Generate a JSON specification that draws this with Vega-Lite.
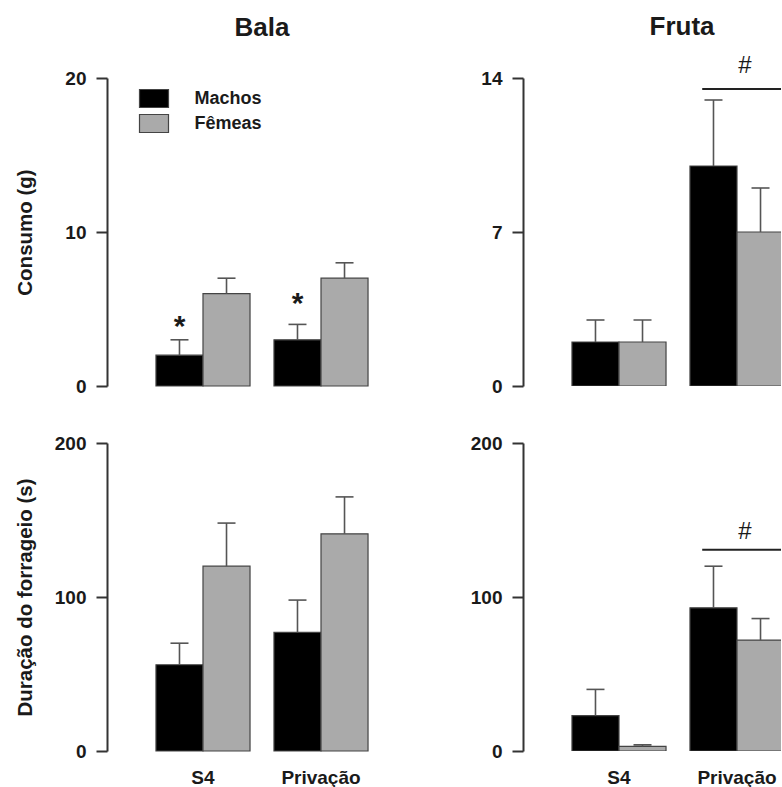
{
  "$schema": "https://vega.github.io/schema/vega-lite/v6.json",
  "background": "white",
  "padding": {"left": 15, "top": 14, "right": 0, "bottom": 0},
  "config": {
    "view": {"stroke": null},
    "font": "Liberation Sans",
    "title": {"font": "Liberation Sans", "fontWeight": "bold", "fontSize": 26, "color": "#1a1a1a", "baseline": "alphabetic", "anchor": "middle"},
    "axisY": {
      "grid": false, "domainColor": "#333333", "domainWidth": 2, "tickColor": "#333333", "tickWidth": 2, "tickSize": 11,
      "labelFont": "Liberation Sans", "labelFontWeight": "bold", "labelFontSize": 19, "labelColor": "#1a1a1a", "labelPadding": 10,
      "titleFont": "Liberation Sans", "titleFontWeight": "bold", "titleFontSize": 20.5, "titleColor": "#1a1a1a",
      "titleX": -82, "titleY": 154, "titleAlign": "center", "titleBaseline": "middle"
    },
    "axisX": {
      "domain": false, "ticks": false, "labelAngle": 0, "labelFont": "Liberation Sans", "labelFontWeight": "bold",
      "labelFontSize": 19, "labelColor": "#1a1a1a", "labelPadding": 17, "title": null
    }
  },
  "datasets": {
    "barras": [
      {"alimento": "Bala", "medida": "Consumo", "grupo": "S4", "sexo": "Machos", "media": 2, "sup": 3},
      {"alimento": "Bala", "medida": "Consumo", "grupo": "S4", "sexo": "Fêmeas", "media": 6, "sup": 7},
      {"alimento": "Bala", "medida": "Consumo", "grupo": "Privação", "sexo": "Machos", "media": 3, "sup": 4},
      {"alimento": "Bala", "medida": "Consumo", "grupo": "Privação", "sexo": "Fêmeas", "media": 7, "sup": 8},
      {"alimento": "Fruta", "medida": "Consumo", "grupo": "S4", "sexo": "Machos", "media": 2, "sup": 3},
      {"alimento": "Fruta", "medida": "Consumo", "grupo": "S4", "sexo": "Fêmeas", "media": 2, "sup": 3},
      {"alimento": "Fruta", "medida": "Consumo", "grupo": "Privação", "sexo": "Machos", "media": 10, "sup": 13},
      {"alimento": "Fruta", "medida": "Consumo", "grupo": "Privação", "sexo": "Fêmeas", "media": 7, "sup": 9},
      {"alimento": "Bala", "medida": "Duração", "grupo": "S4", "sexo": "Machos", "media": 56, "sup": 70},
      {"alimento": "Bala", "medida": "Duração", "grupo": "S4", "sexo": "Fêmeas", "media": 120, "sup": 148},
      {"alimento": "Bala", "medida": "Duração", "grupo": "Privação", "sexo": "Machos", "media": 77, "sup": 98},
      {"alimento": "Bala", "medida": "Duração", "grupo": "Privação", "sexo": "Fêmeas", "media": 141, "sup": 165},
      {"alimento": "Fruta", "medida": "Duração", "grupo": "S4", "sexo": "Machos", "media": 23, "sup": 40},
      {"alimento": "Fruta", "medida": "Duração", "grupo": "S4", "sexo": "Fêmeas", "media": 3, "sup": 4},
      {"alimento": "Fruta", "medida": "Duração", "grupo": "Privação", "sexo": "Machos", "media": 93, "sup": 120},
      {"alimento": "Fruta", "medida": "Duração", "grupo": "Privação", "sexo": "Fêmeas", "media": 72, "sup": 86}
    ],
    "asteriscos": [
      {"alimento": "Bala", "medida": "Consumo", "grupo": "S4", "sexo": "Machos", "texto": "*", "y": 3.85},
      {"alimento": "Bala", "medida": "Consumo", "grupo": "Privação", "sexo": "Machos", "texto": "*", "y": 5.35}
    ],
    "cerquilhas": [
      {"alimento": "Fruta", "medida": "Consumo", "grupo": "Privação", "texto": "#", "y": 14.55, "linha": 13.5},
      {"alimento": "Fruta", "medida": "Duração", "grupo": "Privação", "texto": "#", "y": 142.2, "linha": 130.7}
    ]
  },
  "concat": [
    {
      "width": 310, "height": 308,
      "title": {"text": "Bala", "offset": 28.5},
      "encoding": {
        "x": {"field": "grupo", "type": "nominal", "sort": ["S4", "Privação"], "scale": {"paddingInner": 0.203, "paddingOuter": 0.415}, "axis": null}
      },
      "layer": [
        {
          "data": {"name": "barras"},
          "transform": [{"filter": "datum.alimento == 'Bala' && datum.medida == 'Consumo'"}],
          "mark": {"type": "bar", "stroke": "#444444", "strokeWidth": 1.2},
          "encoding": {
            "xOffset": {"field": "sexo", "type": "nominal", "sort": ["Machos", "Fêmeas"]},
            "y": {"field": "media", "type": "quantitative", "scale": {"domain": [0, 20], "nice": false},
                  "axis": {"values": [0, 10, 20], "title": "Consumo (g)"}},
            "color": {"field": "sexo", "type": "nominal",
              "scale": {"domain": ["Machos", "Fêmeas"], "range": ["#000000", "#aaaaaa"]},
              "legend": {"orient": "none", "legendX": 36, "legendY": 9.5, "title": null, "padding": 0,
                "symbolType": "M-1.45,-0.9H1.45V0.9H-1.45Z", "symbolSize": 400, "symbolStrokeColor": "#444444", "symbolStrokeWidth": 1.2,
                "symbolOpacity": 1, "labelFont": "Liberation Sans", "labelFontWeight": "bold", "labelFontSize": 18,
                "labelColor": "#1a1a1a", "labelOffset": 29.5, "rowPadding": 1}}
          }
        },
        {
          "data": {"name": "barras"},
          "transform": [{"filter": "datum.alimento == 'Bala' && datum.medida == 'Consumo'"}],
          "mark": {"type": "rule", "color": "#555555", "strokeWidth": 1.6},
          "encoding": {
            "xOffset": {"field": "sexo", "type": "nominal", "sort": ["Machos", "Fêmeas"]},
            "y": {"field": "media", "type": "quantitative"}, "y2": {"field": "sup"}
          }
        },
        {
          "data": {"name": "barras"},
          "transform": [{"filter": "datum.alimento == 'Bala' && datum.medida == 'Consumo'"}],
          "mark": {"type": "tick", "color": "#555555", "size": 18, "thickness": 1.6, "opacity": 1},
          "encoding": {
            "xOffset": {"field": "sexo", "type": "nominal", "sort": ["Machos", "Fêmeas"]},
            "y": {"field": "sup", "type": "quantitative"}
          }
        },
        {
          "data": {"name": "asteriscos"},
          "transform": [{"filter": "datum.alimento == 'Bala' && datum.medida == 'Consumo'"}],
          "mark": {"type": "text", "font": "Liberation Sans", "fontWeight": "bold", "fontSize": 30, "color": "#1a1a1a", "baseline": "middle"},
          "encoding": {
            "xOffset": {"field": "sexo", "type": "nominal", "sort": ["Machos", "Fêmeas"]},
            "y": {"field": "y", "type": "quantitative"},
            "text": {"field": "texto"}
          }
        }
      ]
    },
    {
      "width": 258, "height": 308,
      "title": {"text": "Fruta", "dx": 30, "offset": 13.5},
      "encoding": {
        "x": {"field": "grupo", "type": "nominal", "sort": ["S4", "Privação"], "scale": {"range": [0, 310], "paddingInner": 0.203, "paddingOuter": 0.415}, "axis": null}
      },
      "layer": [
        {
          "data": {"name": "barras"},
          "transform": [{"filter": "datum.alimento == 'Fruta' && datum.medida == 'Consumo'"}],
          "mark": {"type": "bar", "stroke": "#444444", "strokeWidth": 1.2, "clip": true},
          "encoding": {
            "xOffset": {"field": "sexo", "type": "nominal", "sort": ["Machos", "Fêmeas"]},
            "y": {"field": "media", "type": "quantitative", "scale": {"domain": [0, 14], "nice": false},
                  "axis": {"values": [0, 7, 14], "title": null}},
            "color": {"field": "sexo", "type": "nominal",
              "scale": {"domain": ["Machos", "Fêmeas"], "range": ["#000000", "#aaaaaa"]}, "legend": null}
          }
        },
        {
          "data": {"name": "barras"},
          "transform": [{"filter": "datum.alimento == 'Fruta' && datum.medida == 'Consumo'"}],
          "mark": {"type": "rule", "color": "#555555", "strokeWidth": 1.6, "clip": true},
          "encoding": {
            "xOffset": {"field": "sexo", "type": "nominal", "sort": ["Machos", "Fêmeas"]},
            "y": {"field": "media", "type": "quantitative"}, "y2": {"field": "sup"}
          }
        },
        {
          "data": {"name": "barras"},
          "transform": [{"filter": "datum.alimento == 'Fruta' && datum.medida == 'Consumo'"}],
          "mark": {"type": "tick", "color": "#555555", "size": 18, "thickness": 1.6, "opacity": 1, "clip": true},
          "encoding": {
            "xOffset": {"field": "sexo", "type": "nominal", "sort": ["Machos", "Fêmeas"]},
            "y": {"field": "sup", "type": "quantitative"}
          }
        },
        {
          "data": {"name": "cerquilhas"},
          "transform": [{"filter": "datum.alimento == 'Fruta' && datum.medida == 'Consumo'"}],
          "mark": {"type": "text", "font": "Liberation Sans", "fontSize": 24, "color": "#1a1a1a", "baseline": "middle"},
          "encoding": {
            "x": {"field": "grupo", "type": "nominal", "bandPosition": 0.585},
            "y": {"field": "y", "type": "quantitative"},
            "text": {"field": "texto"}
          }
        },
        {
          "data": {"name": "cerquilhas"},
          "transform": [{"filter": "datum.alimento == 'Fruta' && datum.medida == 'Consumo'"}],
          "mark": {"type": "rule", "color": "#222222", "strokeWidth": 2, "clip": true},
          "encoding": {
            "x": {"field": "grupo", "type": "nominal", "bandPosition": 0.13},
            "x2": {"datum": "Privação", "bandPosition": 1},
            "y": {"field": "linha", "type": "quantitative"}
          }
        }
      ]
    },
    {
      "width": 310, "height": 308,
      "encoding": {
        "x": {"field": "grupo", "type": "nominal", "sort": ["S4", "Privação"], "scale": {"paddingInner": 0.203, "paddingOuter": 0.415}, "axis": {}}
      },
      "layer": [
        {
          "data": {"name": "barras"},
          "transform": [{"filter": "datum.alimento == 'Bala' && datum.medida == 'Duração'"}],
          "mark": {"type": "bar", "stroke": "#444444", "strokeWidth": 1.2},
          "encoding": {
            "xOffset": {"field": "sexo", "type": "nominal", "sort": ["Machos", "Fêmeas"]},
            "y": {"field": "media", "type": "quantitative", "scale": {"domain": [0, 200], "nice": false},
                  "axis": {"values": [0, 100, 200], "title": "Duração do forrageio (s)"}},
            "color": {"field": "sexo", "type": "nominal",
              "scale": {"domain": ["Machos", "Fêmeas"], "range": ["#000000", "#aaaaaa"]}, "legend": null}
          }
        },
        {
          "data": {"name": "barras"},
          "transform": [{"filter": "datum.alimento == 'Bala' && datum.medida == 'Duração'"}],
          "mark": {"type": "rule", "color": "#555555", "strokeWidth": 1.6},
          "encoding": {
            "xOffset": {"field": "sexo", "type": "nominal", "sort": ["Machos", "Fêmeas"]},
            "y": {"field": "media", "type": "quantitative"}, "y2": {"field": "sup"}
          }
        },
        {
          "data": {"name": "barras"},
          "transform": [{"filter": "datum.alimento == 'Bala' && datum.medida == 'Duração'"}],
          "mark": {"type": "tick", "color": "#555555", "size": 18, "thickness": 1.6, "opacity": 1},
          "encoding": {
            "xOffset": {"field": "sexo", "type": "nominal", "sort": ["Machos", "Fêmeas"]},
            "y": {"field": "sup", "type": "quantitative"}
          }
        }
      ]
    },
    {
      "width": 258, "height": 308,
      "encoding": {
        "x": {"field": "grupo", "type": "nominal", "sort": ["S4", "Privação"], "scale": {"range": [0, 310], "paddingInner": 0.203, "paddingOuter": 0.415}, "axis": {}}
      },
      "layer": [
        {
          "data": {"name": "barras"},
          "transform": [{"filter": "datum.alimento == 'Fruta' && datum.medida == 'Duração'"}],
          "mark": {"type": "bar", "stroke": "#444444", "strokeWidth": 1.2, "clip": true},
          "encoding": {
            "xOffset": {"field": "sexo", "type": "nominal", "sort": ["Machos", "Fêmeas"]},
            "y": {"field": "media", "type": "quantitative", "scale": {"domain": [0, 200], "nice": false},
                  "axis": {"values": [0, 100, 200], "title": null}},
            "color": {"field": "sexo", "type": "nominal",
              "scale": {"domain": ["Machos", "Fêmeas"], "range": ["#000000", "#aaaaaa"]}, "legend": null}
          }
        },
        {
          "data": {"name": "barras"},
          "transform": [{"filter": "datum.alimento == 'Fruta' && datum.medida == 'Duração'"}],
          "mark": {"type": "rule", "color": "#555555", "strokeWidth": 1.6, "clip": true},
          "encoding": {
            "xOffset": {"field": "sexo", "type": "nominal", "sort": ["Machos", "Fêmeas"]},
            "y": {"field": "media", "type": "quantitative"}, "y2": {"field": "sup"}
          }
        },
        {
          "data": {"name": "barras"},
          "transform": [{"filter": "datum.alimento == 'Fruta' && datum.medida == 'Duração'"}],
          "mark": {"type": "tick", "color": "#555555", "size": 18, "thickness": 1.6, "opacity": 1, "clip": true},
          "encoding": {
            "xOffset": {"field": "sexo", "type": "nominal", "sort": ["Machos", "Fêmeas"]},
            "y": {"field": "sup", "type": "quantitative"}
          }
        },
        {
          "data": {"name": "cerquilhas"},
          "transform": [{"filter": "datum.alimento == 'Fruta' && datum.medida == 'Duração'"}],
          "mark": {"type": "text", "font": "Liberation Sans", "fontSize": 24, "color": "#1a1a1a", "baseline": "middle"},
          "encoding": {
            "x": {"field": "grupo", "type": "nominal", "bandPosition": 0.585},
            "y": {"field": "y", "type": "quantitative"},
            "text": {"field": "texto"}
          }
        },
        {
          "data": {"name": "cerquilhas"},
          "transform": [{"filter": "datum.alimento == 'Fruta' && datum.medida == 'Duração'"}],
          "mark": {"type": "rule", "color": "#222222", "strokeWidth": 2, "clip": true},
          "encoding": {
            "x": {"field": "grupo", "type": "nominal", "bandPosition": 0.13},
            "x2": {"datum": "Privação", "bandPosition": 1},
            "y": {"field": "linha", "type": "quantitative"}
          }
        }
      ]
    }
  ],
  "columns": 2,
  "bounds": "flush",
  "spacing": {"row": 57, "column": 106},
  "resolve": {"legend": {"color": "independent"}}
}
